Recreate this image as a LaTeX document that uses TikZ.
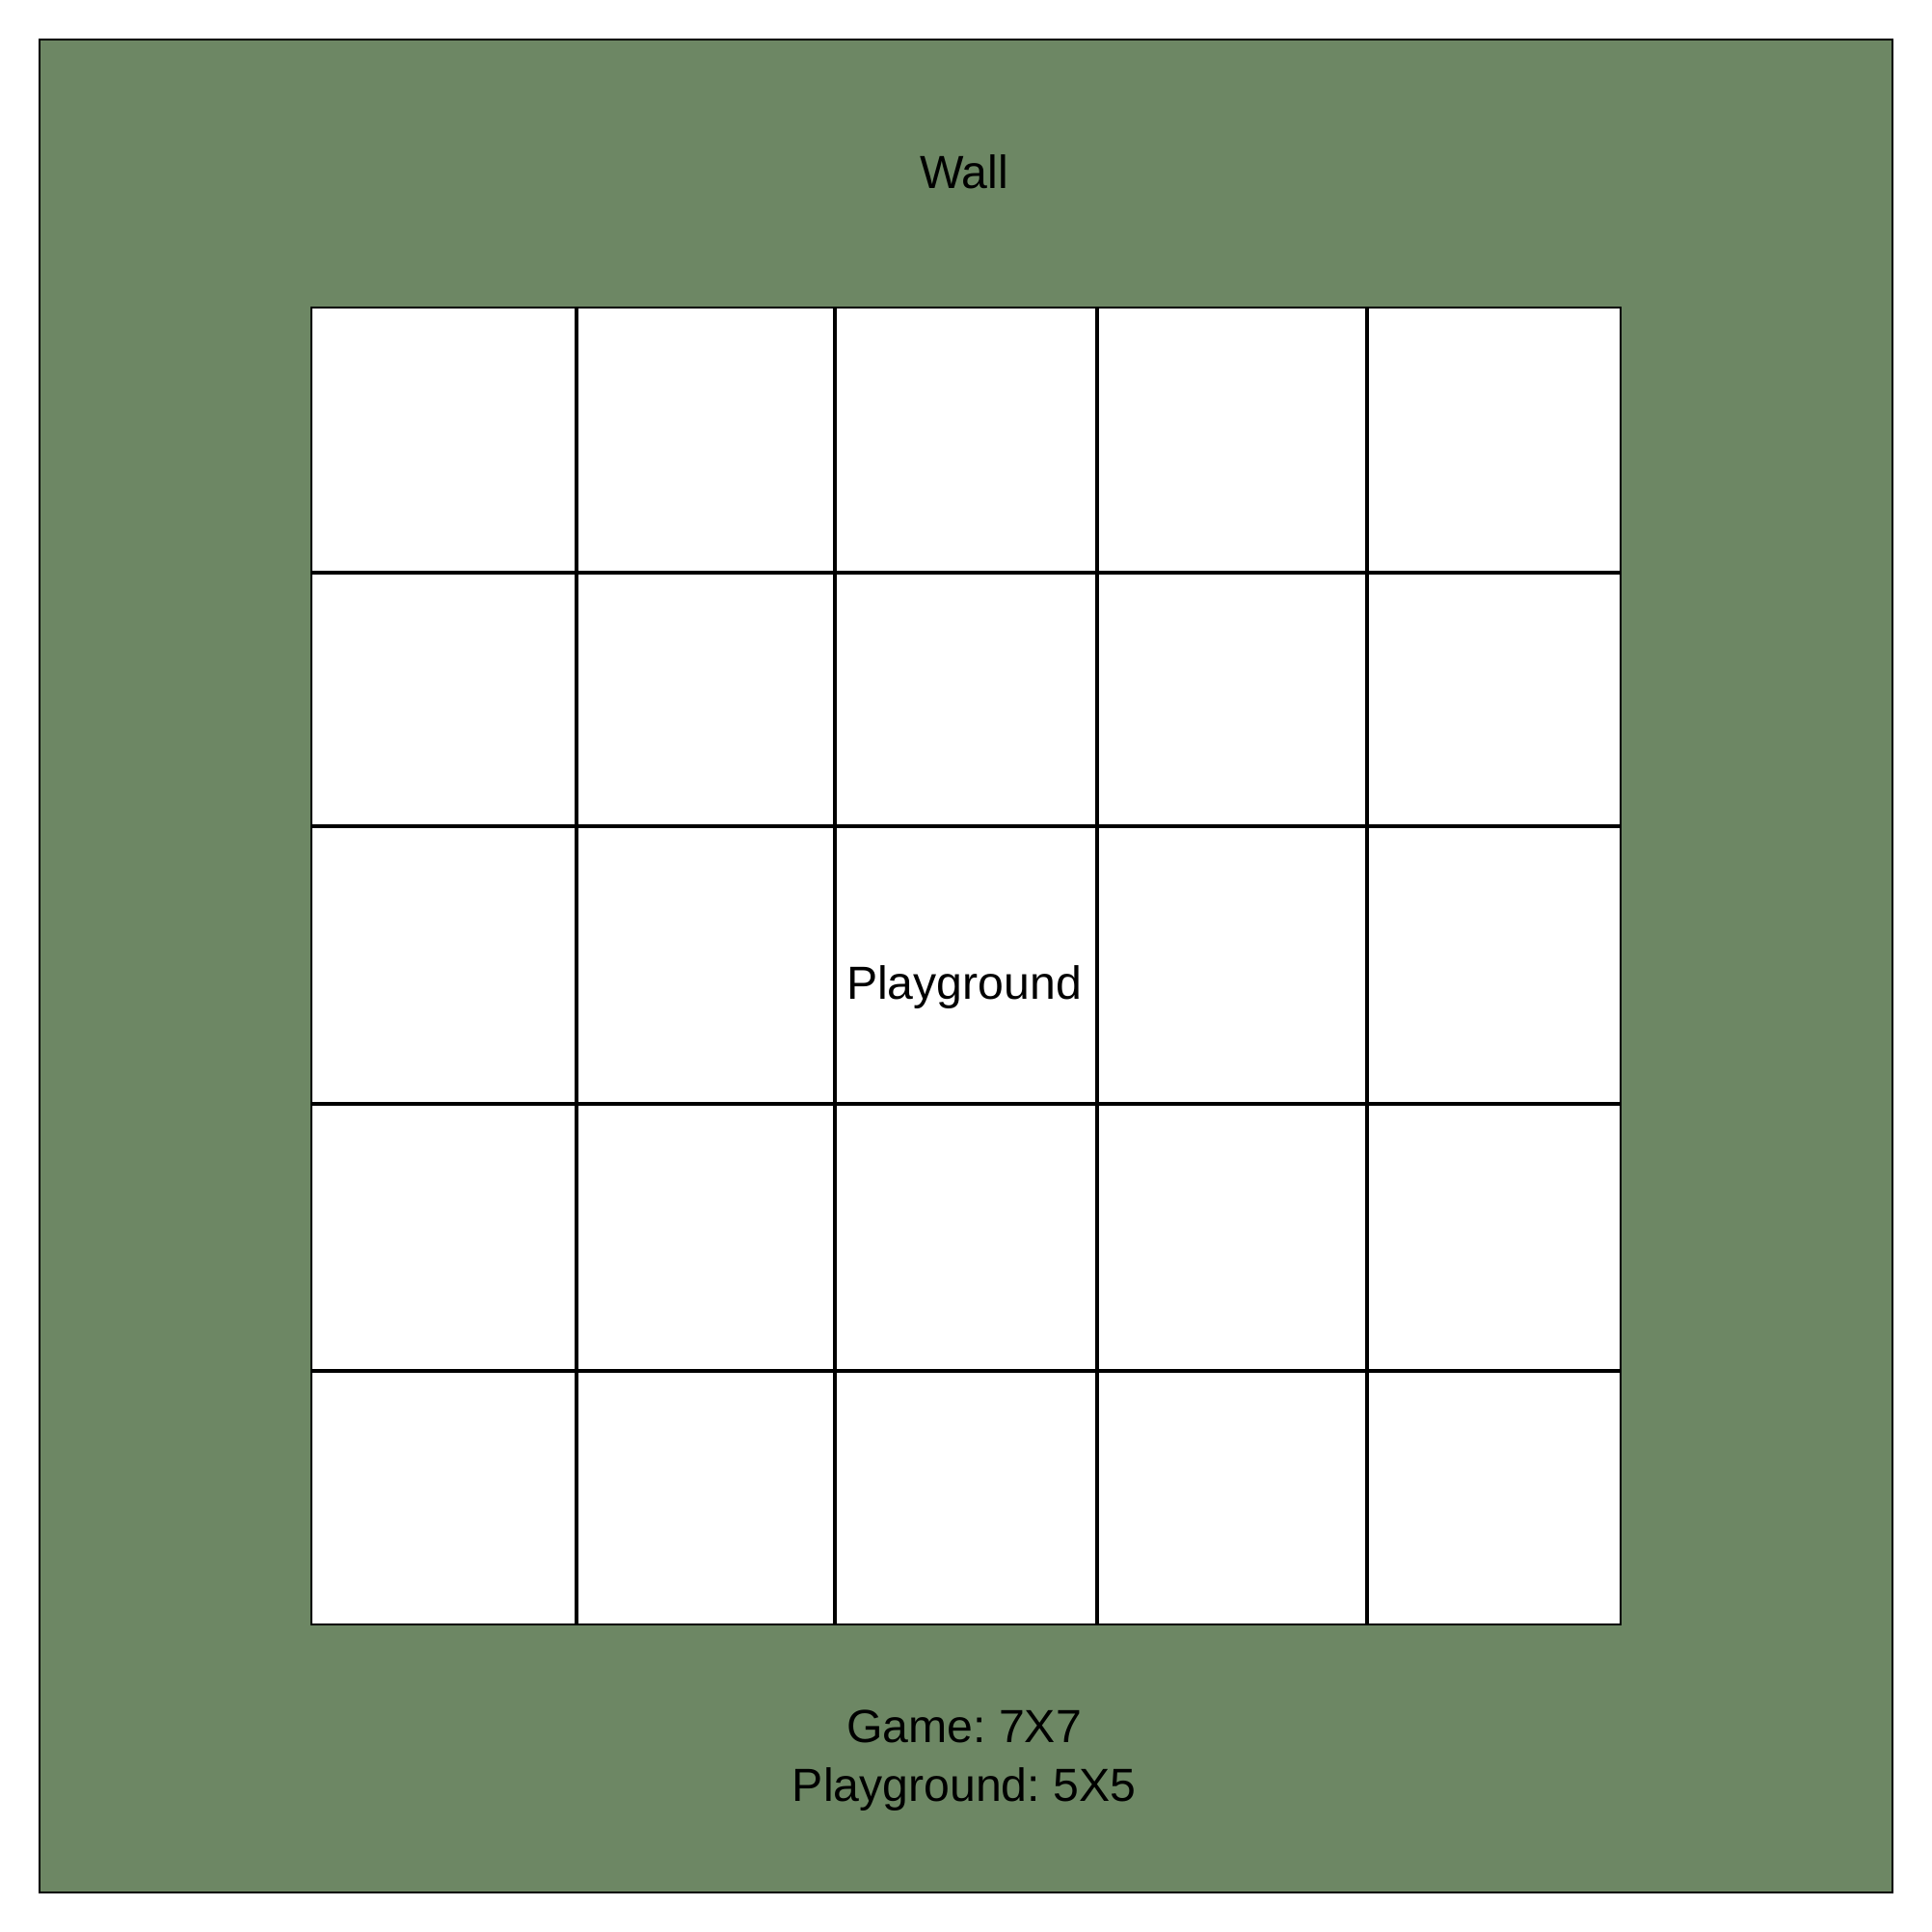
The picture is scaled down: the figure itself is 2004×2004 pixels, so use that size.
\documentclass[tikz,border=0pt]{standalone}
\usepackage{fontspec}
\setmainfont{Liberation Sans}
\usetikzlibrary{positioning}

\definecolor{wallgreen}{HTML}{6D8764}

\begin{document}
\begin{tikzpicture}[
    x=0.01cm,y=-0.01cm,
    wall/.style={draw=black,fill=wallgreen,line width=0.6pt},
    field/.style={draw=black,fill=white,line width=0.6pt},
    gridline/.style={draw=black,line width=1.1pt},
    txt/.style={font=\fontsize{13.7}{18}\selectfont,text=black,inner sep=0pt,align=center},
]
\useasboundingbox (0,0) rectangle (2004,2004);

% wall and playground
\draw[wall]  (41,41) rectangle (1963,1963);
\draw[field] (323,319) rectangle (1681,1685);

% grid of the playground
\foreach \x in {598,866,1138,1418}
    \draw[gridline] (\x,319) -- (\x,1685);
\foreach \y in {594,857,1145,1422}
    \draw[gridline] (323,\y) -- (1681,\y);

% labels
\node[txt,anchor=base] (wall) at (1000,196)  {Wall};
\node[txt,anchor=base] (play) at (1000,1036) {Playground};
\node[txt,anchor=base] (game) at (1000,1807) {Game:\ 7X7};
\node[txt,anchor=base] (size) at (1000,1868) {Playground:\ 5X5};

\end{tikzpicture}
\end{document}
